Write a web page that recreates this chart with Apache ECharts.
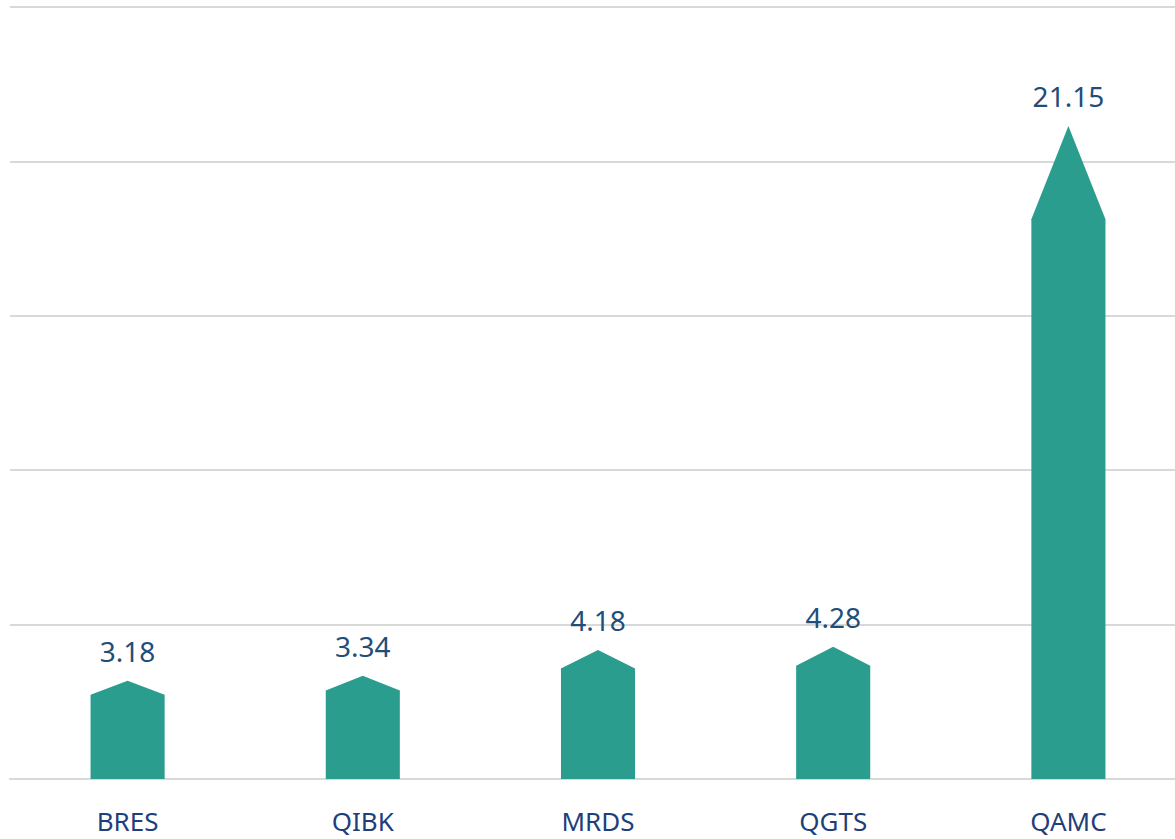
<!DOCTYPE html>
<html>
<head>
<meta charset="utf-8">
<script src="https://cdn.jsdelivr.net/npm/echarts@6/dist/echarts.min.js"></script>
<style>html,body{margin:0;padding:0;background:#fff;overflow:hidden;width:1175px;height:839px;}#c{width:1186px;height:839px;}</style>
</head>
<body>
<div id="c"></div>
<script>
var categories = ['BRES', 'QIBK', 'MRDS', 'QGTS', 'QAMC'];
var values = [3.18, 3.34, 4.18, 4.28, 21.15];
var yTicks = [0, 5, 10, 15, 20, 25];

var chart = echarts.init(document.getElementById('c'), null, {renderer: 'svg'});
var barColor = '#2A9D8F';
var labelColor = '#1F4E79';
var tipRatio = 0.143;
var barWidthRatio = 0.315;

chart.setOption({
  animation: false,
  grid: {left: 10, top: 7, right: 0, bottom: 60, containLabel: false},
  xAxis: {
    type: 'category',
    data: categories,
    axisLine: {show: true, lineStyle: {color: '#d9d9d9', width: 2}},
    axisTick: {show: false},
    axisLabel: {color: '#1F3F7A', fontSize: 26, fontFamily: 'Noto Sans', margin: 29}
  },
  yAxis: {
    type: 'value',
    min: yTicks[0],
    max: yTicks[yTicks.length - 1],
    interval: 5,
    axisLabel: {show: false},
    axisLine: {show: false},
    axisTick: {show: false},
    splitLine: {lineStyle: {color: '#d9d9d9', width: 2}}
  },
  series: [{
    type: 'custom',
    data: values.map(function (v, i) { return [i, v]; }),
    renderItem: function (params, api) {
      var idx = api.value(0), val = api.value(1);
      var top = api.coord([idx, val]);
      var base = api.coord([idx, 0]);
      var w = api.size([1, 0])[0] * barWidthRatio;
      var h = base[1] - top[1];
      var sh = top[1] + h * tipRatio;
      var x0 = top[0] - w / 2, x1 = top[0] + w / 2;
      return {
        type: 'group',
        children: [{
          type: 'polygon',
          shape: {points: [[x0, base[1]], [x0, sh], [top[0], top[1]], [x1, sh], [x1, base[1]]]},
          style: {fill: barColor}
        }, {
          type: 'text',
          style: {
            text: val.toFixed(2),
            x: top[0], y: top[1] - 30,
            align: 'center', verticalAlign: 'middle',
            fill: labelColor, fontSize: 28, fontFamily: 'Noto Sans'
          }
        }]
      };
    }
  }]
});
</script>
</body>
</html>
